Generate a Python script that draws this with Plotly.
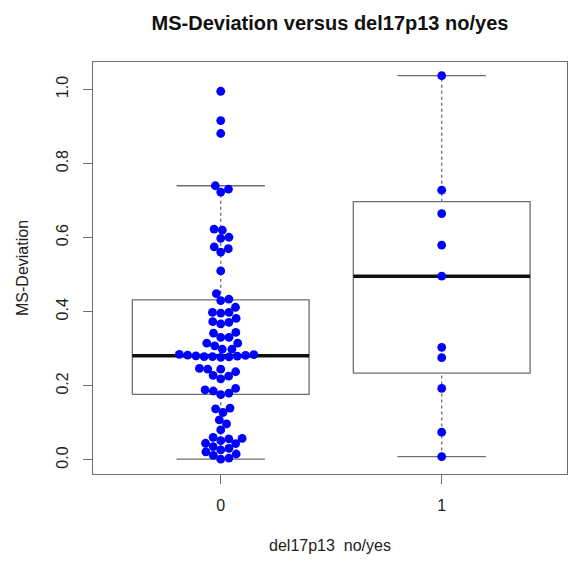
import numpy as np
import plotly.graph_objects as go

# ---------------- data ----------------
categories = ["0", "1"]

group0_values = [
    0.995, 0.916, 0.881,
    0.740, 0.731, 0.723,
    0.623, 0.620, 0.601, 0.598, 0.575, 0.570, 0.561,
    0.510,
    0.449, 0.434, 0.430, 0.412,
    0.398, 0.398, 0.396, 0.382,
    0.373, 0.371, 0.367,
    0.344, 0.342, 0.331, 0.331,
    0.315, 0.315, 0.308, 0.299, 0.299,
    0.285, 0.284, 0.283, 0.282, 0.281, 0.280, 0.279, 0.279, 0.278, 0.277,
    0.247, 0.245, 0.245, 0.238, 0.228, 0.226, 0.219,
    0.193, 0.189, 0.186, 0.180, 0.176,
    0.140, 0.138, 0.128,
    0.108, 0.097,
    0.081,
    0.061, 0.058, 0.057, 0.052, 0.045, 0.044,
    0.036, 0.031, 0.027, 0.022, 0.016, 0.012, 0.005, 0.002,
]
group1_values = [1.037, 0.728, 0.665, 0.580, 0.496, 0.304, 0.276, 0.193, 0.075, 0.009]

# box statistics (lower whisker, q1, median, q3, upper whisker)
box_lower = [0.002, 0.009]
box_q1 = [0.177, 0.234]
box_median = [0.281, 0.496]
box_q3 = [0.432, 0.697]
box_upper = [0.740, 1.037]

y_tick_vals = [0.0, 0.2, 0.4, 0.6, 0.8, 1.0]
y_tick_text = ["0.0", "0.2", "0.4", "0.6", "0.8", "1.0"]

title_text = "<b>MS-Deviation versus del17p13 no/yes</b>"
x_title = "del17p13\u00a0 no/yes"
y_title = "MS-Deviation"

# ---------------- layout constants ----------------
W, H = 569, 563
ML, MR, MT, MB = 93, 2, 62, 89
X_RANGE = [-0.578, 1.567]
Y_RANGE = [-0.038, 1.074]
BOXWEX = 0.8
STAPLE = 0.4
PT_DIAM = 8.3  # px, swarm spacing
LINE_GRAY = "#6e6e6e"

px_per_x = (W - ML - MR) / (X_RANGE[1] - X_RANGE[0])
px_per_y = (H - MT - MB) / (Y_RANGE[1] - Y_RANGE[0])


def swarm_offsets(values):
    """beeswarm 'swarm' method, priority ascending; returns offsets in x data units."""
    v = np.asarray(values, dtype=float)
    order = np.argsort(v, kind="stable")
    vs = v[order] * px_per_y / PT_DIAM
    offs = np.zeros(len(vs))
    for i in range(1, len(vs)):
        xi = vs[i]
        pre_x = vs[:i]
        pre_y = offs[:i]
        near = np.abs(xi - pre_x) < 1
        if not near.any():
            offs[i] = 0.0
            continue
        px_ = pre_x[near]
        py_ = pre_y[near]
        d = np.sqrt(np.abs(1 - (xi - px_) ** 2))
        cand = np.concatenate([[0.0], py_ + d, py_ - d])
        ok = [c for c in cand if not np.any((xi - px_) ** 2 + (c - py_) ** 2 < 0.999)]
        ok = np.array(ok)
        offs[i] = ok[np.argmin(np.abs(ok))]
    out = np.zeros(len(vs))
    out[order] = offs * PT_DIAM / px_per_x
    return out


fig = go.Figure()

# boxes
for i in range(len(categories)):
    h = BOXWEX / 2
    s = STAPLE / 2
    fig.add_trace(go.Scatter(
        x=[i - h, i + h, i + h, i - h, i - h],
        y=[box_q1[i], box_q1[i], box_q3[i], box_q3[i], box_q1[i]],
        mode="lines", line=dict(color=LINE_GRAY, width=1.3),
        showlegend=False, hoverinfo="skip"))
    for a, b in [(box_q3[i], box_upper[i]), (box_lower[i], box_q1[i])]:
        fig.add_trace(go.Scatter(
            x=[i, i], y=[a, b], mode="lines",
            line=dict(color=LINE_GRAY, width=1.3, dash="3px,3px"),
            showlegend=False, hoverinfo="skip"))
    for yv in [box_upper[i], box_lower[i]]:
        fig.add_trace(go.Scatter(
            x=[i - s, i + s], y=[yv, yv], mode="lines",
            line=dict(color=LINE_GRAY, width=1.3),
            showlegend=False, hoverinfo="skip"))
    fig.add_trace(go.Scatter(
        x=[i - h, i + h], y=[box_median[i], box_median[i]], mode="lines",
        line=dict(color="#111111", width=3.5),
        showlegend=False, hoverinfo="skip"))

# swarm points
for i, vals in enumerate([group0_values, group1_values]):
    offs = swarm_offsets(vals)
    fig.add_trace(go.Scatter(
        x=i + offs, y=vals, mode="markers",
        marker=dict(color="#0000ff", size=8.8, line=dict(width=0)),
        showlegend=False))

fig.update_layout(
    width=W, height=H,
    margin=dict(l=ML, r=MR, t=MT, b=MB),
    paper_bgcolor="white", plot_bgcolor="white",
    font=dict(family="Liberation Sans, Arial, sans-serif", size=16, color="#222222"),
    title=dict(text=title_text, x=(ML + (W - MR)) / 2 / W, xanchor="center",
               y=1 - 23 / H, yanchor="middle", yref="container",
               font=dict(size=20, color="#111111")),
    xaxis=dict(range=X_RANGE, tickvals=list(range(len(categories))), ticktext=categories,
               showline=True, mirror=True, linecolor=LINE_GRAY, linewidth=1.3,
               ticks="outside", ticklen=9, tickcolor=LINE_GRAY, tickwidth=1.3,
               showgrid=False, zeroline=False, ticklabelstandoff=8,
               title=dict(text=x_title, standoff=26, font=dict(size=16))),
    yaxis=dict(range=Y_RANGE, tickvals=y_tick_vals, ticktext=y_tick_text, tickangle=-90,
               showline=True, mirror=True, linecolor=LINE_GRAY, linewidth=1.3,
               ticks="outside", ticklen=9, tickcolor=LINE_GRAY, tickwidth=1.3,
               showgrid=False, zeroline=False, ticklabelstandoff=8,
               title=dict(text=y_title, standoff=21, font=dict(size=16))),
)

fig.write_html("out.html")
